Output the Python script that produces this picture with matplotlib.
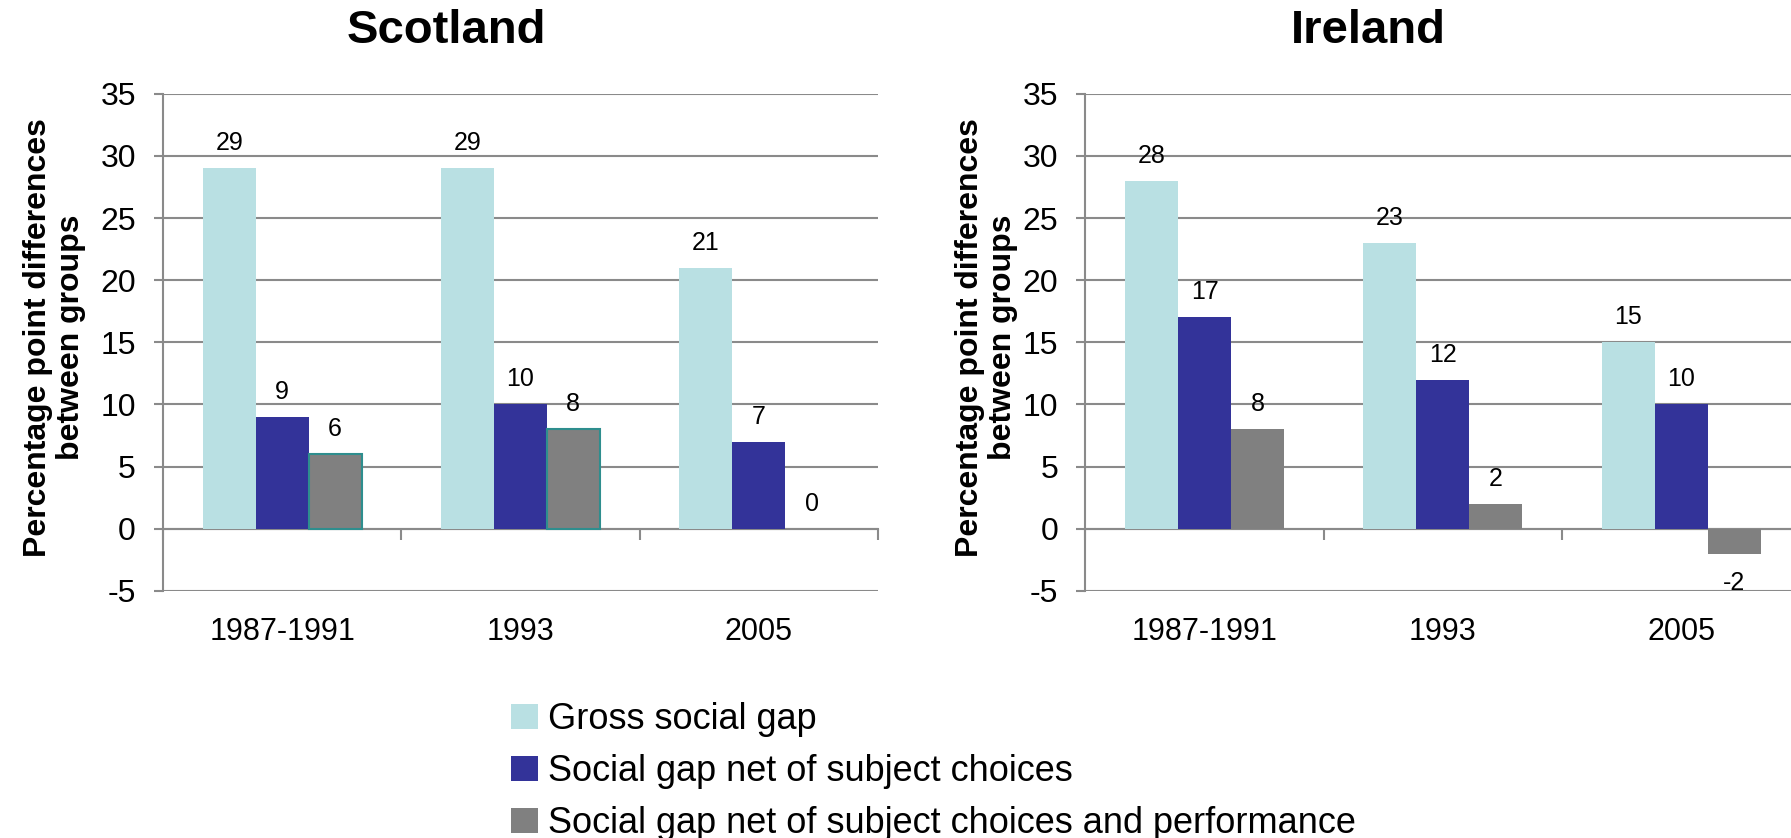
import numpy as np
import matplotlib
matplotlib.use("Agg")
from matplotlib import pyplot as plt
from matplotlib import transforms
from matplotlib.patches import Patch

plt.rcParams['font.family'] = ['Liberation Sans', 'DejaVu Sans']
plt.rcParams['axes.unicode_minus'] = False

periods = ['1987-1991', '1993', '2005']
series = ['Gross social gap',
          'Social gap net of subject choices',
          'Social gap net of subject choices and performance']
scotland_gross = [29, 29, 21]
scotland_net_choice = [9, 10, 7]
scotland_net_perf = [6, 8, 0]
ireland_gross = [28, 23, 15]
ireland_net_choice = [17, 12, 10]
ireland_net_perf = [8, 2, -2]

colores = ['#B9E0E3', '#333399', '#808080']
gris = '#8A8A8A'
ylab = 'Percentage point differences\nbetween groups'

fig = plt.figure(figsize=(17.91, 8.38), dpi=100)
ax1 = fig.add_axes([0.0910, 0.2948, 0.3992, 0.5934])
ax2 = fig.add_axes([0.6060, 0.2948, 0.3992, 0.5934])


def dibujar(ax, datos, titulo, borde_gris, lab_x, titulo_x):
    x = np.arange(len(periods))
    w = 0.222
    for i, vals in enumerate(datos):
        if borde_gris and i == 2:
            bordes = ['#2E8E8E' if v != 0 else 'none' for v in vals]
            lw = 1.5
        else:
            bordes = colores[i]
            lw = 0
        ax.bar(x + (i - 1) * w, vals, w, color=colores[i],
               edgecolor=bordes, linewidth=lw, zorder=3)
        for xi, v in zip(x + (i - 1) * w, vals):
            off = 18 if v >= 0 else -21
            ax.annotate(str(v), (xi, v), xytext=(0, off), textcoords='offset points',
                        ha='center', va='center', fontsize=18, zorder=4)

    ax.set_xlim(-0.5, 2.5)
    ax.set_ylim(-5, 35)
    ax.set_yticks(range(-5, 36, 5))
    ax.yaxis.grid(True, color=gris, linewidth=1.5, zorder=0)
    ax.set_axisbelow(True)
    for s in ['top', 'right']:
        ax.spines[s].set_visible(False)
    ax.spines['left'].set_color(gris)
    ax.spines['left'].set_linewidth(1.5)
    ax.spines['bottom'].set_position(('data', 0))
    ax.spines['bottom'].set_color(gris)
    ax.spines['bottom'].set_linewidth(1.5)
    ax.set_xticks([-0.5, 0.5, 1.5, 2.5])
    ax.set_xticklabels([])
    ax.tick_params(axis='x', length=8, width=1.5, color=gris, direction='out')
    ax.tick_params(axis='y', length=6.5, width=1.5, color=gris, pad=13, labelsize=23)

    trans = transforms.blended_transform_factory(ax.transData, ax.transAxes)
    for xi, p in zip(x, periods):
        ax.text(xi, -0.083, p, transform=trans, ha='center', va='center', fontsize=22)

    ax.set_ylabel(ylab, fontsize=23, fontweight='bold', linespacing=1.12)
    ax.yaxis.set_label_coords(lab_x, 0.51)
    fig.text(titulo_x, 0.963, titulo, ha='center', va='center', fontsize=34, fontweight='bold')


dibujar(ax1, [scotland_gross, scotland_net_choice, scotland_net_perf],
        'Scotland', True, -0.108, 446 / 1791)
dibujar(ax2, [ireland_gross, ireland_net_choice, ireland_net_perf],
        'Ireland', False, -0.094, 1368 / 1791)

handles = [Patch(facecolor=c, edgecolor='none') for c in colores]
fig.legend(handles=handles, labels=series, loc='upper left',
           bbox_to_anchor=(511 / 1791, 1 - 702 / 838),
           frameon=False, fontsize=26, handlelength=0.75, handleheight=0.67,
           handletextpad=0.28, labelspacing=0.47, borderpad=0, borderaxespad=0)

fig.savefig('out.png', dpi=100)
